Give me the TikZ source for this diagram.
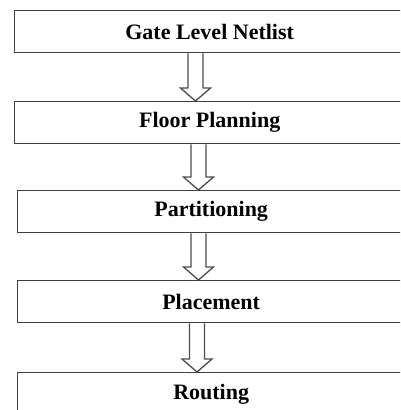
\documentclass[tikz,border=0pt]{standalone}
\usepackage{fontspec}
\setmainfont{Liberation Serif}
\tikzset{
  box/.style={draw=black!75, line width=1.3pt, anchor=north west, minimum width=390pt, minimum height=42pt, inner sep=0pt, font=\bfseries\fontsize{22}{25}\selectfont, text=black},
  fat/.style={draw=black!70, line width=1.3pt, line join=miter, to path={
    let \p1=(\tikztostart), \p2=(\tikztotarget) in
    (\x1-7.5pt,\y1) -- (\x1-7.5pt,\y2+13pt) -- (\x1-15pt,\y2+13pt) -- (\x2,\y2)
    -- (\x1+15pt,\y2+13pt) -- (\x1+7.5pt,\y2+13pt) -- (\x1+7.5pt,\y1)}}
}
\usetikzlibrary{calc}
\begin{document}
\begin{tikzpicture}[x=1pt,y=-1pt]
\useasboundingbox (0,0) rectangle (400,410);
\clip (0,0) rectangle (400,410);
\node[box] (g) at (14,10) {Gate Level Netlist};
\node[box] (f) at (14,101) {Floor Planning};
\node[box, minimum width=387pt] (p) at (17,190) {Partitioning};
\node[box, minimum width=387pt] (pl) at (17,280) {Placement};
\node[box, minimum width=387pt, minimum height=44pt] (r) at (17,372) {Routing};
\coordinate (c1) at (195.5,0);
\coordinate (c2) at (198.5,0);
\coordinate (c3) at (198.5,0);
\coordinate (c4) at (197,0);
\draw[fat] (g.south -| c1) to (f.north -| c1);
\draw[fat] (f.south -| c2) to (p.north -| c2);
\draw[fat] (p.south -| c3) to (pl.north -| c3);
\draw[fat] (pl.south -| c4) to (r.north -| c4);
\end{tikzpicture}
\end{document}
